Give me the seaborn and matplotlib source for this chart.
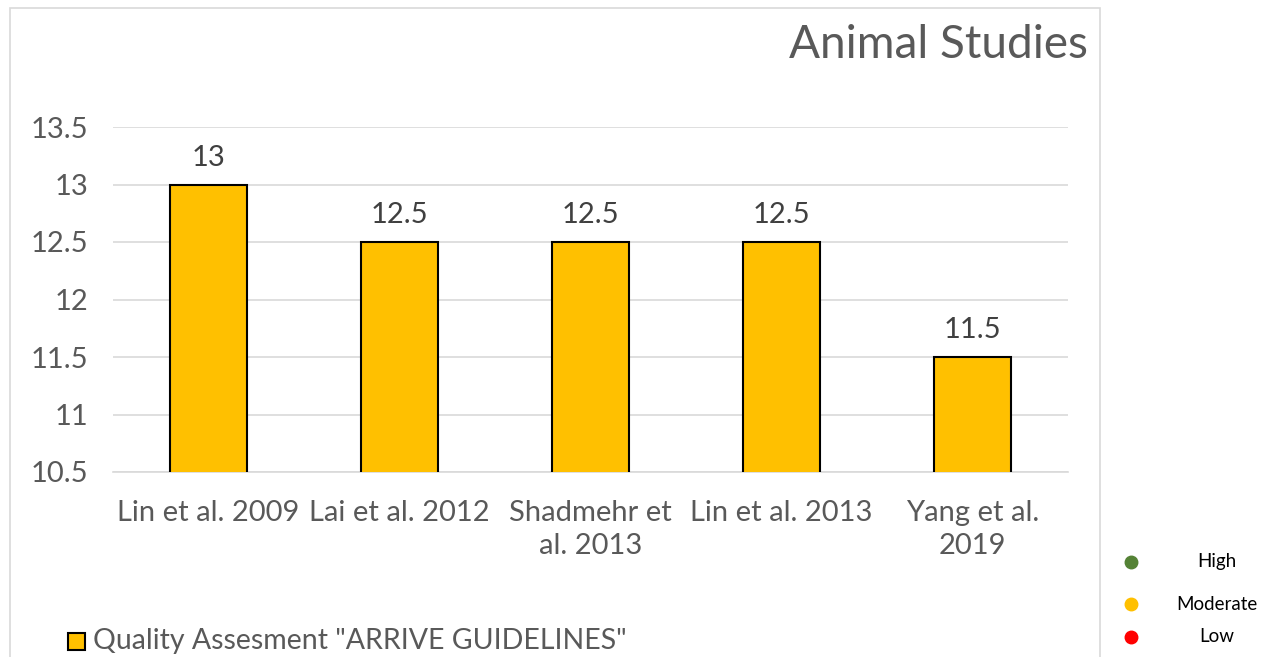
import numpy as np
import pandas as pd
import seaborn as sns
import matplotlib.pyplot as plt
from matplotlib.patches import Rectangle
from matplotlib.lines import Line2D

studies = ['Lin et al. 2009', 'Lai et al. 2012', 'Shadmehr et\nal. 2013', 'Lin et al. 2013', 'Yang et al.\n2019']
scores = [13, 12.5, 12.5, 12.5, 11.5]
y_ticks = [10.5, 11, 11.5, 12, 12.5, 13, 13.5]
risk_labels = ['High', 'Moderate', 'Low']
risk_colors = ['#548235', '#FFC000', '#FF0000']

sns.set_theme(style='white')
plt.rcParams['font.family'] = ['Lato', 'DejaVu Sans']

df = pd.DataFrame({'Study': studies, 'Score': scores})

fig = plt.figure(figsize=(12.69, 6.57), dpi=100)
ax = fig.add_axes([113 / 1269, 1 - 472 / 657, 955 / 1269, 345 / 657])

sns.barplot(data=df, x='Study', y='Score', color='#FFC000', width=0.4,
            edgecolor='black', linewidth=1.5, saturation=1, ax=ax, zorder=3)

ax.set_ylim(10.5, 13.5)
ax.set_xlim(-0.5, 4.5)
ax.set_yticks(y_ticks)
ax.set_yticklabels([f'{t:g}' for t in y_ticks])
ax.yaxis.grid(True, color='#D9D9D9', linewidth=1.2, zorder=0)
ax.set_axisbelow(True)
for s in ['top', 'right', 'left']:
    ax.spines[s].set_visible(False)
ax.spines['bottom'].set_color('#D9D9D9')
ax.spines['bottom'].set_linewidth(1.2)
ax.tick_params(axis='both', labelsize=21, colors='#595959', length=0)
ax.tick_params(axis='y', pad=18)
ax.tick_params(axis='x', pad=20)
for lbl in ax.get_xticklabels():
    lbl.set_linespacing(1.35)
ax.set_xlabel('')
ax.set_ylabel('')

for i, v in enumerate(scores):
    ax.text(i, v + 0.12, f'{v:g}', ha='center', va='bottom', fontsize=21, color='#404040')

fig.text(1088 / 1269, 1 - 45 / 657, 'Animal Studies', ha='right', va='center',
         fontsize=33, color='#595959')

# chart border
fig.patches.append(Rectangle((10 / 1269, -0.05), 1090 / 1269, 1.05 - 8 / 657,
                             transform=fig.transFigure, fill=False,
                             edgecolor='#D9D9D9', linewidth=1.2))

# series legend
fig.patches.append(Rectangle((68 / 1269, 1 - 650 / 657), 17 / 1269, 17 / 657,
                             transform=fig.transFigure, facecolor='#FFC000',
                             edgecolor='black', linewidth=1.5))
fig.text(93 / 1269, 1 - 641 / 657, 'Quality Assesment "ARRIVE GUIDELINES"',
         ha='left', va='center', fontsize=20.5, color='#595959')

# risk legend
for lab, col, yy in zip(risk_labels, risk_colors, [562, 604, 637]):
    fig.add_artist(Line2D([1131 / 1269], [1 - yy / 657], marker='o', markersize=9,
                          color=col, transform=fig.transFigure))
    fig.text(1217 / 1269, 1 - yy / 657, lab, ha='center', va='center',
             fontsize=13.5, color='black')

fig.savefig('out.png', dpi=100)
